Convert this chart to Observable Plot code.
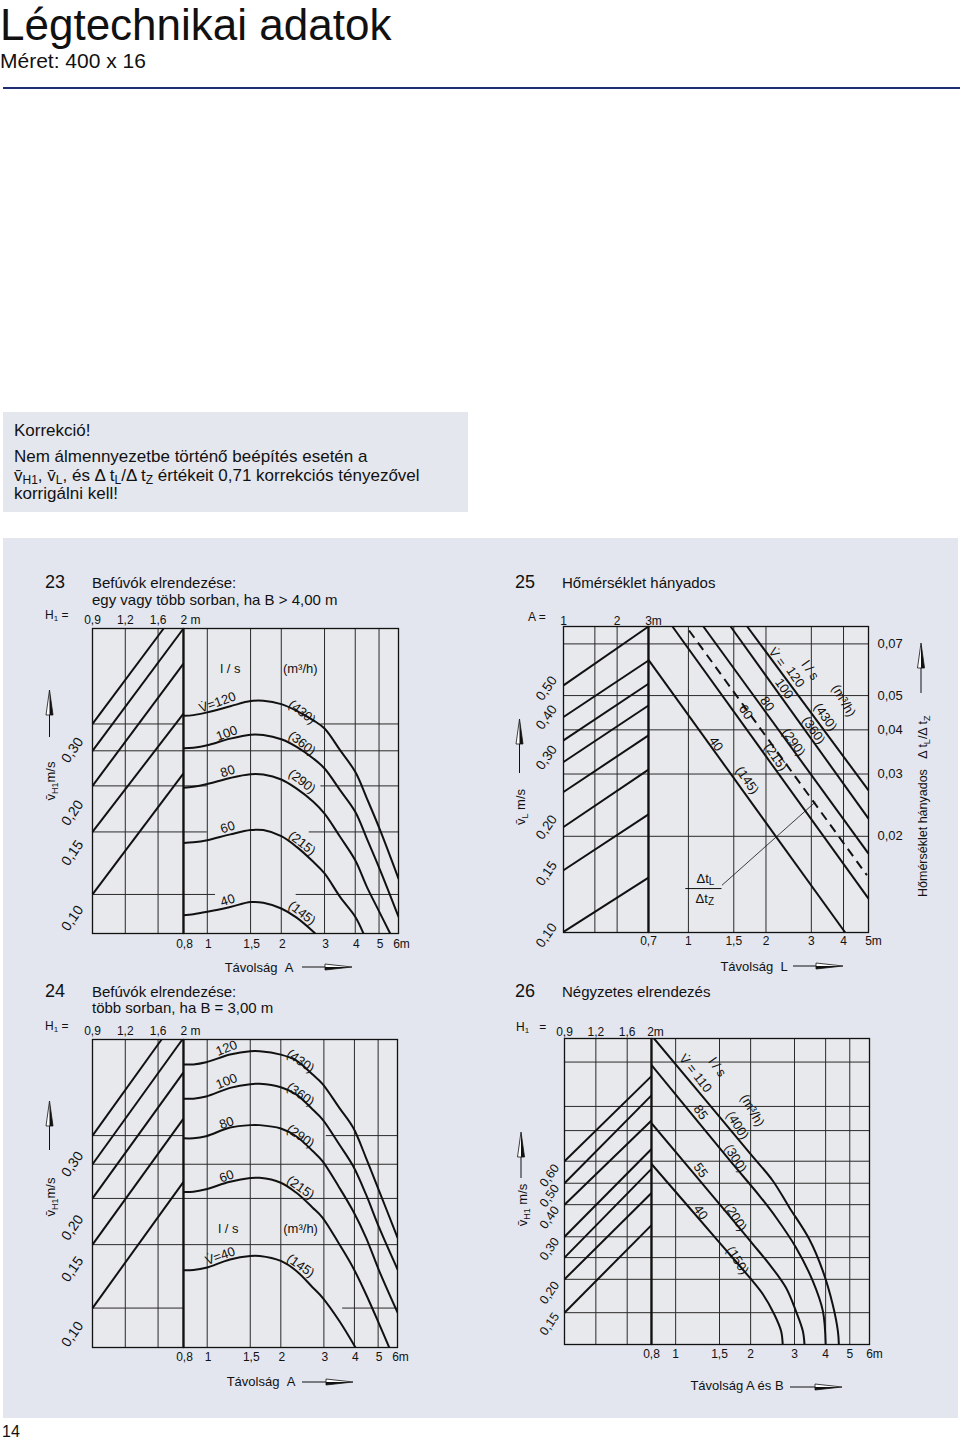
<!DOCTYPE html>
<html><head><meta charset="utf-8">
<script src="https://cdn.jsdelivr.net/npm/d3@7"></script>
<script src="https://cdn.jsdelivr.net/npm/@observablehq/plot@0.6"></script>
<style>
body{margin:0;background:#fff;}
#page{position:relative;width:960px;height:1442px;overflow:hidden;font-family:"Liberation Sans",Arial,Helvetica,sans-serif;color:#111}
#page svg{position:absolute}
</style></head>
<body><div id="page"></div>
<script>
// ================= DATA =================
// shared ticks
const h1Ticks = [0.9, 1.2, 1.6];          // H1 top labels (last "2 m" added separately)
const h1Grid = [1.2, 1.6];
const aTicks = [0.8, 1, 1.5, 2, 3, 4, 5];  // distance A labels (last "6m" separately)
const aGrid = [1, 1.5, 2, 3, 4, 5];

// ---- chart 23 ----
const c23Scale = [{label:"0,30", y:60.1}, {label:"0,20", y:39.5}, {label:"0,15", y:26.4}, {label:"0,10", y:5.0}];
const c23LeftGrid = [68.7, 59.9, 48.4, 33.3, 12.8];
const c23LeftLines = [
  {h1a:0.9, ya:12.8, h1b:2, yb:52.5},
  {h1a:0.9, ya:33.3, h1b:2, yb:72.1},
  {h1a:0.9, ya:48.4, h1b:2, yb:88.5},
  {h1a:0.9, ya:59.9, h1b:2, yb:100},
  {h1a:0.9, ya:68.7, h1b:1.68, yb:100}
];
const c23HSeg = [
  {y:68.7, a1:2.9, a2:6}, {y:59.9, a1:0.8, a2:6},
  {y:48.4, a1:0.8, a2:1}, {y:48.4, a1:2.9, a2:6},
  {y:33.3, a1:0.8, a2:1}, {y:33.3, a1:2.6, a2:6},
  {y:12.8, a1:0.8, a2:1.08}, {y:12.8, a1:2.3, a2:6}
];
const c23V120 = [[0.8,71.4],[0.878,71.6],[1.0,72.5],[1.24,74.5],[1.5,76.2],[1.69,76.3],[2.0,75.2],[2.31,73.0],[2.70,69.9],[3.0,67.2],[3.47,60.1],[4.0,53.0],[4.46,44.3],[5.05,33.9],[6.0,18.0]];
const c23V100 = [[0.8,60.7],[0.878,60.9],[1.0,61.7],[1.24,63.9],[1.5,65.2],[1.69,65.1],[2.0,63.7],[2.31,61.2],[2.70,57.4],[3.0,54.1],[3.47,47.0],[4.0,39.9],[4.46,31.1],[5.05,20.8],[6.0,5.5]];
const c23V80 = [[0.8,47.8],[0.878,48.1],[1.0,49.0],[1.24,51.0],[1.5,52.2],[1.69,52.1],[2.0,50.5],[2.31,47.5],[2.70,43.2],[3.0,39.3],[3.47,31.7],[4.0,24.0],[4.46,15.3],[5.05,6.6],[5.55,0]];
const c23V60 = [[0.8,29.7],[0.878,29.9],[1.0,30.6],[1.24,32.5],[1.5,33.9],[1.69,33.9],[2.0,31.9],[2.31,28.4],[2.70,23.5],[3.0,19.7],[3.47,12.0],[4.0,5.5],[4.32,0]];
const c23V40 = [[0.8,6.0],[0.878,6.3],[1.0,7.1],[1.24,8.7],[1.5,10.3],[1.69,10.1],[2.0,8.2],[2.31,5.2],[2.75,0]];
const c23Labels = [
  {t:"l / s", a:1.24, y:86.7, r:0}, {t:"(m³/h)", a:2.39, y:86.7, r:0},
  {t:"V̇=120", a:1.10, y:75.8, r:-20}, {t:"100", a:1.20, y:65.6, r:-20},
  {t:"80", a:1.21, y:53.2, r:-18}, {t:"60", a:1.21, y:34.8, r:-18}, {t:"40", a:1.21, y:10.9, r:-18},
  {t:"(430)", a:2.43, y:72.6, r:38}, {t:"(360)", a:2.43, y:62.4, r:38}, {t:"(290)", a:2.43, y:49.9, r:38},
  {t:"(215)", a:2.43, y:29.6, r:38}, {t:"(145)", a:2.43, y:6.7, r:38}
];

// ---- chart 24 ----
const c24Scale = [{label:"0,30", y:59.5}, {label:"0,20", y:38.9}, {label:"0,15", y:25.4}, {label:"0,10", y:4.3}];
const c24LeftGrid = [68.8, 59.5, 48.4, 33.4, 12.8];
const c24LeftLines = [
  {h1a:0.9, ya:12.8, h1b:2, yb:53.8},
  {h1a:0.9, ya:33.4, h1b:2, yb:74.3},
  {h1a:0.9, ya:48.4, h1b:2, yb:89.3},
  {h1a:0.9, ya:59.5, h1b:1.98, yb:100},
  {h1a:0.9, ya:68.8, h1b:1.65, yb:100}
];
const c24HSeg = [
  {y:68.8, a1:3.07, a2:6}, {y:59.5, a1:0.8, a2:6}, {y:48.4, a1:0.8, a2:6},
  {y:33.4, a1:0.8, a2:6}, {y:12.8, a1:3.58, a2:6}
];
const c24V120 = [[0.8,91.9],[0.878,91.9],[0.99,92.6],[1.24,95.1],[1.5,96.2],[1.64,96.2],[2.0,95.1],[2.31,93.2],[2.70,88.6],[2.96,85.6],[3.47,77.8],[3.95,71.4],[4.46,61.6],[5.05,50.8],[6.0,35.7]];
const c24V100 = [[0.8,80.8],[0.878,80.8],[0.99,81.5],[1.24,84.3],[1.5,85.5],[1.64,85.6],[2.0,84.5],[2.31,82.2],[2.70,77.3],[2.96,74.1],[3.47,65.9],[3.95,58.9],[4.46,49.7],[5.05,38.9],[6.0,25.4]];
const c24V80 = [[0.8,67.9],[0.878,67.9],[0.99,68.6],[1.24,71.4],[1.5,72.2],[1.64,72.2],[2.0,71.1],[2.31,68.6],[2.70,63.8],[2.96,60.5],[3.47,51.9],[3.95,44.3],[4.46,35.7],[5.05,24.9],[6.0,11.4]];
const c24V60 = [[0.8,50.5],[0.878,50.6],[0.99,51.4],[1.24,53.8],[1.5,55.0],[1.64,55.1],[2.0,53.5],[2.31,50.3],[2.70,45.4],[2.96,42.2],[3.47,33.5],[3.95,25.9],[4.46,17.3],[5.05,7.6],[5.55,0]];
const c24V40 = [[0.8,25.1],[0.878,25.2],[0.99,25.9],[1.24,28.6],[1.5,29.7],[1.64,29.7],[2.0,28.1],[2.31,24.9],[2.70,19.5],[2.96,16.2],[3.47,8.6],[4.04,0]];
const c24Labels = [
  {t:"120", a:1.2, y:97.2, r:-22}, {t:"(430)", a:2.41, y:93.0, r:35},
  {t:"100", a:1.2, y:86.4, r:-22}, {t:"(360)", a:2.41, y:82.2, r:35},
  {t:"80", a:1.2, y:72.9, r:-20}, {t:"(290)", a:2.41, y:68.6, r:35},
  {t:"60", a:1.2, y:55.6, r:-20}, {t:"(215)", a:2.41, y:51.9, r:35},
  {t:"l / s", a:1.22, y:38.6, r:0}, {t:"(m³/h)", a:2.41, y:38.6, r:0},
  {t:"V̇=40", a:1.13, y:29.7, r:-20}, {t:"(145)", a:2.41, y:26.5, r:35}
];

// ---- chart 25 ----
const c25ATicks = [1, 2];               // A top labels ("3m" separately)
const c25AGrid = [1.5, 2];
const c25LTicks = [0.7, 1, 1.5, 2, 3, 4]; // L bottom labels ("5m" separately)
const c25LGrid = [1, 1.5, 2, 3, 4];
const c25Ratio = [0.07, 0.05, 0.04, 0.03, 0.02];
const c25Scale = [{label:"0,50", d:0.0524}, {label:"0,40", d:0.0434}, {label:"0,30", d:0.0334},
                  {label:"0,20", d:0.0212}, {label:"0,15", d:0.0157}, {label:"0,10", d:0.0105}];
const c25LeftLines = [
  {a1:1, d1:0.01074, a2:3, d2:0.01528}, {a1:1, d1:0.01603, a2:3, d2:0.02307},
  {a1:1, d1:0.02125, a2:3, d2:0.03086}, {a1:1, d1:0.02668, a2:3, d2:0.03858},
  {a1:1, d1:0.03244, a2:3, d2:0.04688}, {a1:1, d1:0.03734, a2:3, d2:0.05400},
  {a1:1, d1:0.04348, a2:3, d2:0.06284}, {a1:1, d1:0.05342, a2:3, d2:0.0784}
];
const c25Lines = [
  {v:40, L1:0.7, d1:0.0631, L2:4.06, d2:0.01069},
  {v:60, L1:0.867, d1:0.0784, L2:5, d2:0.01333},
  {v:80, L1:1.143, d1:0.0784, L2:5, d2:0.01787},
  {v:100, L1:1.458, d1:0.0784, L2:5, d2:0.02244},
  {v:120, L1:1.691, d1:0.0784, L2:5, d2:0.02698}
];
const c25Dashed = [{L1:1.006, d1:0.0764, L2:4.93, d2:0.01552}];
const c25Leader = [{L1:1.35, d1:0.01454, L2:3.11, d2:0.0250}];
const c25FracBar = [{d:0.01423, L1:0.977, L2:1.35}];
const c25FracText = [{t:"Δt", L:1.20, d:0.0152}, {t:"Δt", L:1.19, d:0.01333}];
const c25FracSub = [{t:"L", L:1.20, d:0.0152}, {t:"Z", L:1.19, d:0.01333}];
const c25Labels = [
  {t:"V̇ =", L:2.21, d:0.0642, r:55}, {t:"l / s", L:2.97, d:0.0589, r:55},
  {t:"120", L:2.60, d:0.0564, r:55}, {t:"100", L:2.35, d:0.0523, r:55},
  {t:"80", L:2.02, d:0.0474, r:55}, {t:"60", L:1.67, d:0.0449, r:55}, {t:"40", L:1.28, d:0.0365, r:55},
  {t:"(m³/h)", L:4.0, d:0.0484, r:60}, {t:"(430)", L:3.40, d:0.0435, r:55},
  {t:"(360)", L:3.06, d:0.0399, r:55}, {t:"(290)", L:2.56, d:0.0369, r:55},
  {t:"(215)", L:2.18, d:0.0335, r:55}, {t:"(145)", L:1.69, d:0.0288, r:55}
];

// ---- chart 26 ----
const c26Scale = [{label:"0,60", y:55.2}, {label:"0,50", y:48.6}, {label:"0,40", y:41.5},
                  {label:"0,30", y:31.2}, {label:"0,20", y:16.9}, {label:"0,15", y:6.7}];
const c26Grid = [92.3, 77.8, 69.9, 59.9, 52.7, 45.7, 35.2, 28.4, 21.3, 10.4];
const c26LeftLines = [
  {h1a:0.9, ya:59.9, h1b:2, yb:87.7}, {h1a:0.9, ya:52.7, h1b:2, yb:81.4},
  {h1a:0.9, ya:45.7, h1b:2, yb:73.2}, {h1a:0.9, ya:35.2, h1b:2, yb:63.9},
  {h1a:0.9, ya:28.4, h1b:2, yb:57.4}, {h1a:0.9, ya:21.3, h1b:2, yb:49.5},
  {h1a:0.9, ya:10.4, h1b:2, yb:39.0}
];
const c26V110 = [[0.819,100],[2.0,62.2],[2.45,53.6],[2.86,44.8],[3.44,34.4],[3.90,24.0],[4.27,13.1],[4.48,4.4],[4.52,0]];
const c26V85 = [[0.8,91.3],[1.64,60.4],[2.17,48.6],[2.53,41.5],[3.04,31.7],[3.55,20.8],[3.90,10.9],[4.0,0]];
const c26V55 = [[0.8,72.3],[1.64,42.1],[2.04,32.8],[2.38,26.2],[2.77,18.6],[3.04,10.9],[3.24,4.4],[3.29,0]];
const c26V40 = [[0.8,59.0],[1.5,33.3],[1.98,21.9],[2.24,16.4],[2.49,9.8],[2.65,4.4],[2.69,0]];
const c26Labels = [
  {t:"V̇ = 110", a:1.20, y:88.6, r:52}, {t:"l / s", a:1.47, y:90.6, r:55},
  {t:"(m³/h)", a:2.03, y:76.5, r:60}, {t:"(400)", a:1.77, y:71.6, r:58},
  {t:"85", a:1.26, y:75.9, r:55}, {t:"(300)", a:1.74, y:60.8, r:58},
  {t:"55", a:1.26, y:56.9, r:55}, {t:"(200)", a:1.74, y:41.6, r:58},
  {t:"40", a:1.26, y:43.2, r:55}, {t:"(150)", a:1.77, y:27.5, r:58}
];

// ================= RENDER =================
const FONT = '"Liberation Sans", Arial, Helvetica, sans-serif';
const INNER = "#e8e9ec", GRID = "#2a2a2a", INK = "#111";
const page = document.getElementById("page");
const fmt = d => String(d).replace(".", ",");

const bg = d3.select(page).append("svg").attr("width", 960).attr("height", 1442).style("left", "0px").style("top", "0px");
bg.append("rect").attr("x", 3).attr("y", 412).attr("width", 465).attr("height", 100).attr("fill", "#e5e7ef");
bg.append("rect").attr("x", 3).attr("y", 538).attr("width", 955).attr("height", 880).attr("fill", "#e3e6ef");
bg.append("rect").attr("x", 3).attr("y", 87).attr("width", 957).attr("height", 2).attr("fill", "#1f2d72");

function part(left, top, width, height, x, y, marks) {
  const svg = Plot.plot({
    width, height, marginTop: 0, marginRight: 0, marginBottom: 0, marginLeft: 0,
    x: {...x, axis: null}, y: {...y, axis: null},
    style: {background: "transparent", overflow: "visible", fontFamily: FONT, fontSize: "12px", color: INK},
    marks
  });
  svg.style.position = "absolute";
  svg.style.left = left + "px";
  svg.style.top = top + "px";
  svg.style.overflow = "visible";
  page.appendChild(svg);
}
const fill = () => Plot.frame({fill: INNER, stroke: null});
const frame = () => Plot.frame({stroke: INK, strokeWidth: 1.3, fill: "none"});
const gx = v => Plot.ruleX(v, {stroke: GRID, strokeWidth: 1});
const gy = v => Plot.ruleY(v, {stroke: GRID, strokeWidth: 1});
const curve = arr => Plot.line(arr, {x: d => d[0], y: d => d[1], curve: "catmull-rom", stroke: INK, strokeWidth: 2, clip: true});
const diag = (arr) => Plot.link(arr, {x1: "h1a", y1: "ya", x2: "h1b", y2: "yb", stroke: INK, strokeWidth: 2});

// ---------- chart 23 ----------
part(92, 628, 91, 305, {type: "log", domain: [0.9, 2]}, {domain: [0, 100]}, [
  fill(), gx(h1Grid), gy(c23LeftGrid), diag(c23LeftLines),
  Plot.text(c23Scale, {y: "y", text: "label", frameAnchor: "left", textAnchor: "middle", dx: -20, rotate: -55, fontSize: 14}),
  Plot.text(h1Ticks, {x: d => d, text: fmt, frameAnchor: "top", dy: -13}),
  Plot.text([2], {x: d => d, text: () => "2 m", frameAnchor: "top", dy: -13, dx: 7}),
  frame()
]);
part(183, 628, 215, 305, {type: "log", domain: [0.8, 6]}, {domain: [0, 100]}, [
  fill(), gx(aGrid), Plot.ruleY(c23HSeg, {y: "y", x1: "a1", x2: "a2", stroke: GRID, strokeWidth: 1}),
  curve(c23V120), curve(c23V100), curve(c23V80), curve(c23V60), curve(c23V40),
  Plot.text(c23Labels, {x: "a", y: "y", text: "t", rotate: "r", fontSize: 13}),
  Plot.text(aTicks, {x: d => d, text: fmt, frameAnchor: "bottom", dy: 14, dx: 1}),
  Plot.text([6], {x: d => d, text: () => "6m", frameAnchor: "bottom", dy: 14, dx: 3}),
  Plot.ruleX([0.8], {stroke: INK, strokeWidth: 2.2}),
  frame()
]);

// ---------- chart 24 ----------
part(92, 1039, 91, 308, {type: "log", domain: [0.9, 2]}, {domain: [0, 100]}, [
  fill(), gx(h1Grid), gy(c24LeftGrid), diag(c24LeftLines),
  Plot.text(c24Scale, {y: "y", text: "label", frameAnchor: "left", textAnchor: "middle", dx: -20, rotate: -55, fontSize: 14}),
  Plot.text(h1Ticks, {x: d => d, text: fmt, frameAnchor: "top", dy: -13}),
  Plot.text([2], {x: d => d, text: () => "2 m", frameAnchor: "top", dy: -13, dx: 7}),
  frame()
]);
part(183, 1039, 214, 308, {type: "log", domain: [0.8, 6]}, {domain: [0, 100]}, [
  fill(), gx(aGrid), Plot.ruleY(c24HSeg, {y: "y", x1: "a1", x2: "a2", stroke: GRID, strokeWidth: 1}),
  curve(c24V120), curve(c24V100), curve(c24V80), curve(c24V60), curve(c24V40),
  Plot.text(c24Labels, {x: "a", y: "y", text: "t", rotate: "r", fontSize: 13}),
  Plot.text(aTicks, {x: d => d, text: fmt, frameAnchor: "bottom", dy: 13, dx: 1}),
  Plot.text([6], {x: d => d, text: () => "6m", frameAnchor: "bottom", dy: 13, dx: 3}),
  Plot.ruleX([0.8], {stroke: INK, strokeWidth: 2.2}),
  frame()
]);

// ---------- chart 25 ----------
const c25Y = {type: "log", domain: [0.01069, 0.0784]};
part(563, 626, 85, 306, {type: "log", domain: [1, 3]}, c25Y, [
  fill(), gx(c25AGrid), gy(c25Ratio),
  Plot.link(c25LeftLines, {x1: "a1", y1: "d1", x2: "a2", y2: "d2", stroke: INK, strokeWidth: 2}),
  Plot.text(c25Scale, {y: "d", text: "label", frameAnchor: "left", textAnchor: "middle", dx: -17, rotate: -55, fontSize: 13.5}),
  Plot.text(c25ATicks, {x: d => d, text: fmt, frameAnchor: "top", dy: -10}),
  Plot.text([3], {x: d => d, text: () => "3m", frameAnchor: "top", dy: -10, dx: 5}),
  frame()
]);
part(648, 626, 220, 306, {type: "log", domain: [0.7, 5]}, c25Y, [
  fill(), gx(c25LGrid), gy(c25Ratio),
  Plot.link(c25Lines, {x1: "L1", y1: "d1", x2: "L2", y2: "d2", stroke: INK, strokeWidth: 2}),
  Plot.link(c25Dashed, {x1: "L1", y1: "d1", x2: "L2", y2: "d2", stroke: INK, strokeWidth: 2, strokeDasharray: "9,6"}),
  Plot.link(c25Leader, {x1: "L1", y1: "d1", x2: "L2", y2: "d2", stroke: INK, strokeWidth: 0.8}),
  Plot.ruleY(c25FracBar, {y: "d", x1: "L1", x2: "L2", stroke: INK, strokeWidth: 1}),
  Plot.text(c25FracText, {x: "L", y: "d", text: "t", textAnchor: "end", fontSize: 13}),
  Plot.text(c25FracSub, {x: "L", y: "d", text: "t", textAnchor: "start", dy: 3, fontSize: 10}),
  Plot.text(c25Labels, {x: "L", y: "d", text: "t", rotate: "r", fontSize: 13}),
  Plot.text(c25LTicks, {x: d => d, text: fmt, frameAnchor: "bottom", dy: 12}),
  Plot.text([5], {x: d => d, text: () => "5m", frameAnchor: "bottom", dy: 12, dx: 5}),
  Plot.text(c25Ratio, {y: d => d, text: fmt, frameAnchor: "right", textAnchor: "start", dx: 9, fontSize: 13}),
  Plot.ruleX([0.7], {stroke: INK, strokeWidth: 2.2}),
  frame()
]);

// ---------- chart 26 ----------
part(564, 1038, 87, 306, {type: "log", domain: [0.9, 2]}, {domain: [0, 100]}, [
  fill(), gx(h1Grid), gy(c26Grid), diag(c26LeftLines),
  Plot.text(c26Scale, {y: "y", text: "label", frameAnchor: "left", textAnchor: "middle", dx: -15, rotate: -55, fontSize: 12.5}),
  Plot.text(h1Ticks, {x: d => d, text: fmt, frameAnchor: "top", dy: -11}),
  Plot.text([2], {x: d => d, text: () => "2m", frameAnchor: "top", dy: -11, dx: 4}),
  frame()
]);
part(651, 1038, 218, 306, {type: "log", domain: [0.8, 6]}, {domain: [0, 100]}, [
  fill(), gx(aGrid), gy(c26Grid),
  curve(c26V110), curve(c26V85), curve(c26V55), curve(c26V40),
  Plot.text(c26Labels, {x: "a", y: "y", text: "t", rotate: "r", fontSize: 13}),
  Plot.text(aTicks, {x: d => d, text: fmt, frameAnchor: "bottom", dy: 13}),
  Plot.text([6], {x: d => d, text: () => "6m", frameAnchor: "bottom", dy: 13, dx: 5}),
  Plot.ruleX([0.8], {stroke: INK, strokeWidth: 2.2}),
  frame()
]);

// ================= OVERLAY TEXT =================
const ov = d3.select(page).append("svg").attr("width", 960).attr("height", 1442)
  .style("left", "0px").style("top", "0px").style("font-family", FONT).style("pointer-events", "none");
function T(x, y, html, size, anchor = "start", rot = 0) {
  ov.append("text").attr("transform", `translate(${x},${y}) rotate(${rot})`)
    .attr("font-size", size).attr("text-anchor", anchor).attr("fill", INK).html(html);
}
const sub = (s, size, dy = 3) => `<tspan dy="${dy}" font-size="${size}">${s}</tspan><tspan dy="-${dy}">`;
function hArrow(x1, x2, y) {
  ov.append("line").attr("x1", x1).attr("x2", x2 - 24).attr("y1", y).attr("y2", y).attr("stroke", INK).attr("stroke-width", 1);
  ov.append("path").attr("d", `M${x2 - 27},${y - 3}L${x2},${y}L${x2 - 27},${y + 3}Z`).attr("fill", "#fff").attr("stroke", INK).attr("stroke-width", 0.8);
  ov.append("path").attr("d", `M${x2 - 27},${y}L${x2},${y}L${x2 - 27},${y + 3}Z`).attr("fill", INK);
}
function vArrow(x, yb, yt) {
  ov.append("line").attr("x1", x).attr("x2", x).attr("y1", yb).attr("y2", yt + 22).attr("stroke", INK).attr("stroke-width", 1);
  ov.append("path").attr("d", `M${x - 3.5},${yt + 25}L${x},${yt}L${x + 3.5},${yt + 25}Z`).attr("fill", "#fff").attr("stroke", INK).attr("stroke-width", 0.8);
  ov.append("path").attr("d", `M${x},${yt + 25}L${x},${yt}L${x + 3.5},${yt + 25}Z`).attr("fill", INK);
}

// page header
T(0, 40, "Légtechnikai adatok", 44);
T(0, 68, "Méret: 400 x 16", 21);
T(14, 436, "Korrekció!", 17);
T(14, 462, "Nem álmennyezetbe történő beépítés esetén a", 17);
T(14, 481, `v̄${sub("H1", 12)}, v̄</tspan>${sub("L", 12)}, és Δ t</tspan>${sub("L", 12)}/Δ t</tspan>${sub("Z", 12)} értékeit 0,71 korrekciós tényezővel</tspan>`, 17);
T(14, 499, "korrigálni kell!", 17);
T(2, 1437, "14", 16);

// chart 23 texts
T(45, 588, "23", 18);
T(92, 588, "Befúvók elrendezése:", 15);
T(92, 605, "egy vagy több sorban, ha B &gt; 4,00 m", 15);
T(45, 619, `H${sub("1", 8, 2)} =</tspan>`, 12);
T(55, 781, `v̄${sub("H1", 9)}m/s</tspan>`, 13, "middle", -90);
vArrow(49.5, 737, 690);
T(259, 972, "Távolság&#160;&#160;A", 13, "middle");
hArrow(302, 352, 967);

// chart 24 texts
T(45, 997, "24", 18);
T(92, 997, "Befúvók elrendezése:", 15);
T(92, 1013, "több sorban, ha B = 3,00 m", 15);
T(45, 1030, `H${sub("1", 8, 2)} =</tspan>`, 12);
T(55, 1197, `v̄${sub("H1", 9)}m/s</tspan>`, 13, "middle", -90);
vArrow(49.5, 1150, 1101);
T(261, 1386, "Távolság&#160;&#160;A", 13, "middle");
hArrow(302, 353, 1382);

// chart 25 texts
T(515, 588, "25", 18);
T(562, 588, "Hőmérséklet hányados", 15);
T(528, 621, "A =", 12);
T(525, 807, `v̄${sub("L", 9)} m/s</tspan>`, 13, "middle", -90);
vArrow(519.5, 773, 719);
T(927, 897, `Hőmérséklet hányados&#160;&#160;&#160;Δ t${sub("L", 9)}/Δ t</tspan>${sub("Z", 9)}</tspan>`, 12.5, "start", -90);
vArrow(921, 693, 643);
T(754, 971, "Távolság&#160;&#160;L", 13, "middle");
hArrow(793, 843, 966);

// chart 26 texts
T(515, 997, "26", 18);
T(562, 997, "Négyzetes elrendezés", 15);
T(516, 1031, `H${sub("1", 8, 2)}&#160;&#160;&#160;=</tspan>`, 12);
T(527, 1205, `v̄${sub("H1", 9)} m/s</tspan>`, 13, "middle", -90);
vArrow(521, 1178, 1132);
T(737, 1390, "Távolság A és B", 13, "middle");
hArrow(790, 842, 1387);
</script>
</body></html>
